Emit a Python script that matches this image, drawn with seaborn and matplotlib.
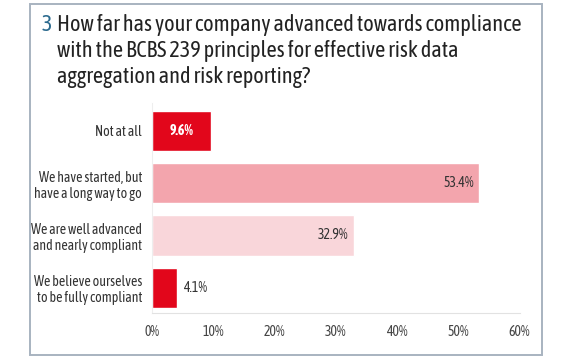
import matplotlib.pyplot as plt
import matplotlib.patches as mpatches
from matplotlib import font_manager
import pandas as pd
import seaborn as sns

categories = ['Not at all',
              'We have started, but\nhave a long way to go',
              'We are well advanced\nand nearly compliant',
              'We believe ourselves\nto be fully compliant']
values = [9.6, 53.4, 32.9, 4.1]
bar_colors = ['#E2061B', '#F3A5AD', '#F9D6DA', '#E2061B']
ticks = [0, 10, 20, 30, 40, 50, 60]

# a condensed face looks closest to the original; fall back if missing
names = {f.name for f in font_manager.fontManager.ttflist}
cond = next((n for n in ['Asap Condensed', 'Barlow Condensed', 'Archivo Narrow'] if n in names), 'DejaVu Sans')

sns.set_style('white')
plt.rcParams['font.family'] = [cond, 'DejaVu Sans']

df = pd.DataFrame({'answer': categories, 'share': values})

fig = plt.figure(figsize=(5.8, 3.58), dpi=100)
ax = fig.add_axes([0.262, 0.126, 0.634, 0.586])

sns.barplot(data=df, x='share', y='answer', hue='answer', palette=bar_colors,
            width=0.77, legend=False, saturation=1, ax=ax)

ax.set_xlim(0, 60)
ax.set_ylim(3.48, -0.53)
ax.set_xticks(ticks)
ax.set_xticklabels([f'{t}%' for t in ticks], fontsize=10, color='#444444')
ax.tick_params(axis='x', length=3, color='#DDDDDD', direction='in', pad=9)
ax.tick_params(axis='y', length=0, pad=7, labelsize=10, labelcolor='#333333')
ax.set_xlabel('')
ax.set_ylabel('')
for s in ['top', 'right']:
    ax.spines[s].set_visible(False)
ax.spines['bottom'].set_color('#E2E2E2')
ax.spines['left'].set_color('#EEEEEE')

# value labels
for i, v in enumerate(values):
    if i == 0:
        ax.text(v / 2, i, f'{v}%', ha='center', va='center', color='white',
                fontweight='bold', fontsize=10)
    elif v > 20:
        ax.text(v - 0.9, i, f'{v}%', ha='right', va='center', color='#333333', fontsize=10)
    else:
        ax.text(v + 0.9, i, f'{v}%', ha='left', va='center', color='#333333', fontsize=10)

# title
fig.text(0.072, 0.93, '3', fontsize=16, color='#2B6A8E', va='center')
fig.text(0.098, 0.93, 'How far has your company advanced towards compliance',
         fontsize=16, color='#222222', va='center')
fig.text(0.098, 0.857, 'with the BCBS 239 principles for effective risk data',
         fontsize=16, color='#222222', va='center')
fig.text(0.098, 0.785, 'aggregation and risk reporting?',
         fontsize=16, color='#222222', va='center')

# outer frame
fig.patches.append(mpatches.Rectangle((0.052, 0.008), 0.882, 0.98, transform=fig.transFigure,
                                      fill=False, edgecolor='#A8B3C0', linewidth=1.4))

fig.savefig('out.png', dpi=100)
